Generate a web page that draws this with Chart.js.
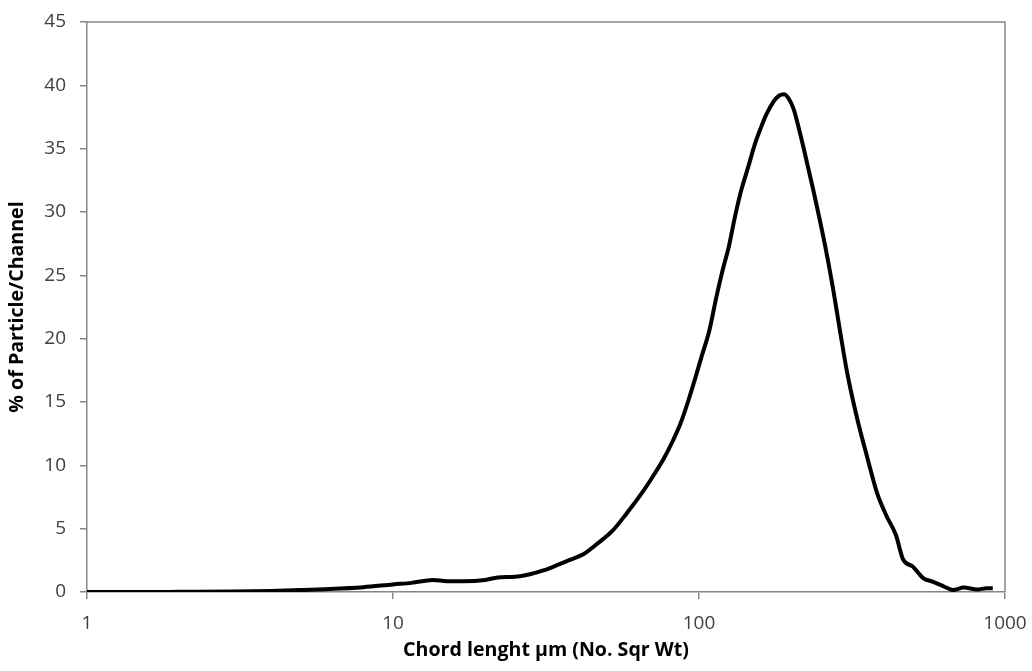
<!DOCTYPE html>
<html>
<head>
<meta charset="utf-8">
<script src="https://cdn.jsdelivr.net/npm/chart.js@4"></script>
<style>
  html, body { margin: 0; padding: 0; background: #fff; }
  #wrap { width: 1032px; height: 671px; position: relative; }
</style>
</head>
<body>
<div id="wrap"><canvas id="c" width="1032" height="671"></canvas></div>
<script>
// Chord length (µm) channels
const chordLength = [1, 1.5, 2, 3, 4, 5, 6, 8, 10, 11.5, 13.5, 15, 17, 20, 22, 25, 28, 31, 35, 38, 42, 47, 52, 58, 65, 71, 77, 82, 87, 92, 97, 102, 108, 114, 120, 125, 131, 137, 145, 152, 159, 166, 175, 183, 190, 197, 204, 212, 220, 236, 258, 274, 289, 305, 328, 354, 382, 410, 440, 464, 500, 540, 582, 630, 676, 733, 812, 870, 912];
// % of particle per channel
const percentPerChannel = [0, 0, 0.01, 0.03, 0.08, 0.15, 0.22, 0.38, 0.6, 0.72, 0.95, 0.85, 0.85, 0.95, 1.15, 1.2, 1.4, 1.7, 2.2, 2.55, 3.0, 3.9, 4.8, 6.2, 7.8, 9.2, 10.6, 11.9, 13.3, 15.0, 16.8, 18.6, 20.6, 23.3, 25.6, 27.2, 29.6, 31.6, 33.6, 35.3, 36.6, 37.7, 38.7, 39.2, 39.3, 38.9, 38.1, 36.6, 35.0, 31.8, 27.4, 24.0, 20.6, 17.3, 13.8, 10.7, 7.8, 6.0, 4.5, 2.6, 2.0, 1.1, 0.8, 0.45, 0.15, 0.35, 0.2, 0.3, 0.3];
const xTicks = [1, 10, 100, 1000];
const yMin = 0, yMax = 45, yStep = 5;
const xTitle = "Chord lenght µm (No. Sqr Wt)";
const yTitle = "% of Particle/Channel";

const points = chordLength.map((x, i) => ({ x: x, y: percentPerChannel[i] }));

const frame = {
  id: 'frame',
  afterDatasetsDraw(chart) {
    const a = chart.chartArea, ctx = chart.ctx;
    ctx.save();
    ctx.strokeStyle = '#868686';
    ctx.lineWidth = 1.5;
    ctx.beginPath();
    ctx.moveTo(a.left, a.top);
    ctx.lineTo(a.right, a.top);
    ctx.lineTo(a.right, a.bottom);
    ctx.stroke();
    ctx.restore();
  }
};

new Chart(document.getElementById('c'), {
  type: 'line',
  data: {
    datasets: [{
      data: points,
      borderColor: '#000',
      borderWidth: 4,
      pointRadius: 0,
      fill: false,
      tension: 0.4,
      cubicInterpolationMode: 'monotone'
    }]
  },
  options: {
    responsive: false,
    animation: false,
    layout: { padding: { top: 22, right: 27, left: 0, bottom: 0 } },
    plugins: { legend: { display: false }, tooltip: { enabled: false } },
    scales: {
      x: {
        type: 'logarithmic',
        min: 1, max: 1000,
        afterBuildTicks(scale) { scale.ticks = xTicks.map(v => ({ value: v })); },
        afterFit(scale) {
          scale.height = 79;
          scale.paddingLeft = 0; scale.paddingRight = 0;
        },
        grid: { drawOnChartArea: false, drawTicks: true, tickLength: 7, color: '#868686', lineWidth: 1.5 },
        border: { color: '#868686', width: 1.5 },
        ticks: {
          autoSkip: false, maxRotation: 0, padding: 13,
          color: '#404040',
          font: { family: 'Open Sans', size: 19 },
          callback: (v) => String(v)
        },
        title: {
          display: true, text: xTitle, color: '#000',
          font: { family: 'Open Sans', size: 19.6, weight: 'bold' },
          padding: { top: 4, bottom: 9 }
        }
      },
      y: {
        min: yMin, max: yMax,
        ticks: { stepSize: yStep, color: '#404040', font: { family: 'Open Sans', size: 19 }, padding: 14 },
        afterFit(scale) {
          scale.width = 87;
          scale.paddingTop = 0; scale.paddingBottom = 0;
        },
        grid: { drawOnChartArea: false, drawTicks: true, tickLength: 7, color: '#868686', lineWidth: 1.5 },
        border: { color: '#868686', width: 1.5 },
        title: {
          display: true, text: yTitle, color: '#000',
          font: { family: 'Open Sans', size: 19.6, weight: 'bold' },
          padding: { top: 6, bottom: 4 }
        }
      }
    }
  },
  plugins: [frame]
});
</script>
</body>
</html>
